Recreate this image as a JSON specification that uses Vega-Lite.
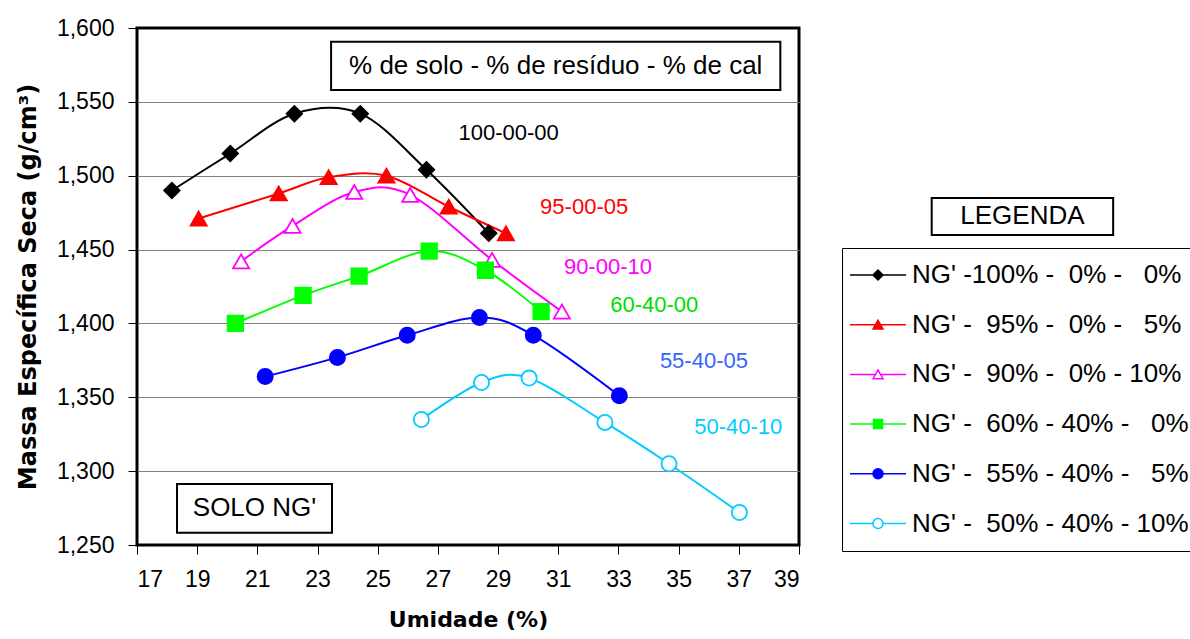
{
  "$schema": "https://vega.github.io/schema/vega-lite/v6.json",
  "width": 662,
  "height": 517,
  "autosize": "none",
  "padding": {"left": 137, "top": 28, "right": 391, "bottom": 94},
  "background": "white",
  "config": {
    "view": {"stroke": "#000000", "strokeWidth": 3},
    "axis": {
      "labelFont": "Liberation Sans", "labelFontSize": 23, "labelColor": "#000000",
      "tickColor": "#000000", "tickSize": 9, "tickWidth": 1, "domain": false,
      "titleFont": "DejaVu Sans", "titleFontWeight": "bold", "titleColor": "#000000",
      "labelPadding": 14
    },
    "legend": {
      "orient": "none", "legendX": 705, "legendY": 220, "padding": 14,
      "strokeColor": "#000000", "fillColor": "#ffffff",
      "labelFont": "Liberation Sans", "labelFontSize": 26, "labelColor": "#000000",
      "labelLimit": 500, "labelOffset": 21, "symbolOffset": 9, "symbolSize": 100,
      "symbolStrokeWidth": 1.5, "rowPadding": 23.7
    }
  },
  "datasets": {
    "pontos": [
      {"serie": "NG'\u00a0-100%\u00a0-\u00a0\u00a00%\u00a0-\u00a0\u00a0\u00a00%", "umidade": 18.16, "massa": 1.490},
      {"serie": "NG'\u00a0-100%\u00a0-\u00a0\u00a00%\u00a0-\u00a0\u00a0\u00a00%", "umidade": 20.10, "massa": 1.515},
      {"serie": "NG'\u00a0-100%\u00a0-\u00a0\u00a00%\u00a0-\u00a0\u00a0\u00a00%", "umidade": 22.23, "massa": 1.542},
      {"serie": "NG'\u00a0-100%\u00a0-\u00a0\u00a00%\u00a0-\u00a0\u00a0\u00a00%", "umidade": 24.42, "massa": 1.542},
      {"serie": "NG'\u00a0-100%\u00a0-\u00a0\u00a00%\u00a0-\u00a0\u00a0\u00a00%", "umidade": 26.62, "massa": 1.504},
      {"serie": "NG'\u00a0-100%\u00a0-\u00a0\u00a00%\u00a0-\u00a0\u00a0\u00a00%", "umidade": 28.69, "massa": 1.461},
      {"serie": "NG'\u00a0-\u00a0\u00a095%\u00a0-\u00a0\u00a00%\u00a0-\u00a0\u00a0\u00a05%", "umidade": 19.05, "massa": 1.471},
      {"serie": "NG'\u00a0-\u00a0\u00a095%\u00a0-\u00a0\u00a00%\u00a0-\u00a0\u00a0\u00a05%", "umidade": 21.71, "massa": 1.488},
      {"serie": "NG'\u00a0-\u00a0\u00a095%\u00a0-\u00a0\u00a00%\u00a0-\u00a0\u00a0\u00a05%", "umidade": 23.37, "massa": 1.499},
      {"serie": "NG'\u00a0-\u00a0\u00a095%\u00a0-\u00a0\u00a00%\u00a0-\u00a0\u00a0\u00a05%", "umidade": 25.29, "massa": 1.500},
      {"serie": "NG'\u00a0-\u00a0\u00a095%\u00a0-\u00a0\u00a00%\u00a0-\u00a0\u00a0\u00a05%", "umidade": 27.36, "massa": 1.479},
      {"serie": "NG'\u00a0-\u00a0\u00a095%\u00a0-\u00a0\u00a00%\u00a0-\u00a0\u00a0\u00a05%", "umidade": 29.26, "massa": 1.461},
      {"serie": "NG'\u00a0-\u00a0\u00a090%\u00a0-\u00a0\u00a00%\u00a0-\u00a010%", "umidade": 20.46, "massa": 1.442},
      {"serie": "NG'\u00a0-\u00a0\u00a090%\u00a0-\u00a0\u00a00%\u00a0-\u00a010%", "umidade": 22.17, "massa": 1.466},
      {"serie": "NG'\u00a0-\u00a0\u00a090%\u00a0-\u00a0\u00a00%\u00a0-\u00a010%", "umidade": 24.22, "massa": 1.489},
      {"serie": "NG'\u00a0-\u00a0\u00a090%\u00a0-\u00a0\u00a00%\u00a0-\u00a010%", "umidade": 26.08, "massa": 1.487},
      {"serie": "NG'\u00a0-\u00a0\u00a090%\u00a0-\u00a0\u00a00%\u00a0-\u00a010%", "umidade": 28.80, "massa": 1.443},
      {"serie": "NG'\u00a0-\u00a0\u00a090%\u00a0-\u00a0\u00a00%\u00a0-\u00a010%", "umidade": 31.12, "massa": 1.408},
      {"serie": "NG'\u00a0-\u00a0\u00a060%\u00a0-\u00a040%\u00a0-\u00a0\u00a0\u00a00%", "umidade": 20.27, "massa": 1.400},
      {"serie": "NG'\u00a0-\u00a0\u00a060%\u00a0-\u00a040%\u00a0-\u00a0\u00a0\u00a00%", "umidade": 22.52, "massa": 1.419},
      {"serie": "NG'\u00a0-\u00a0\u00a060%\u00a0-\u00a040%\u00a0-\u00a0\u00a0\u00a00%", "umidade": 24.38, "massa": 1.432},
      {"serie": "NG'\u00a0-\u00a0\u00a060%\u00a0-\u00a040%\u00a0-\u00a0\u00a0\u00a00%", "umidade": 26.71, "massa": 1.449},
      {"serie": "NG'\u00a0-\u00a0\u00a060%\u00a0-\u00a040%\u00a0-\u00a0\u00a0\u00a00%", "umidade": 28.58, "massa": 1.436},
      {"serie": "NG'\u00a0-\u00a0\u00a060%\u00a0-\u00a040%\u00a0-\u00a0\u00a0\u00a00%", "umidade": 30.43, "massa": 1.408},
      {"serie": "NG'\u00a0-\u00a0\u00a055%\u00a0-\u00a040%\u00a0-\u00a0\u00a0\u00a05%", "umidade": 21.26, "massa": 1.364},
      {"serie": "NG'\u00a0-\u00a0\u00a055%\u00a0-\u00a040%\u00a0-\u00a0\u00a0\u00a05%", "umidade": 23.66, "massa": 1.377},
      {"serie": "NG'\u00a0-\u00a0\u00a055%\u00a0-\u00a040%\u00a0-\u00a0\u00a0\u00a05%", "umidade": 25.98, "massa": 1.392},
      {"serie": "NG'\u00a0-\u00a0\u00a055%\u00a0-\u00a040%\u00a0-\u00a0\u00a0\u00a05%", "umidade": 28.38, "massa": 1.404},
      {"serie": "NG'\u00a0-\u00a0\u00a055%\u00a0-\u00a040%\u00a0-\u00a0\u00a0\u00a05%", "umidade": 30.17, "massa": 1.392},
      {"serie": "NG'\u00a0-\u00a0\u00a055%\u00a0-\u00a040%\u00a0-\u00a0\u00a0\u00a05%", "umidade": 33.03, "massa": 1.351},
      {"serie": "NG'\u00a0-\u00a0\u00a050%\u00a0-\u00a040%\u00a0-\u00a010%", "umidade": 26.45, "massa": 1.335},
      {"serie": "NG'\u00a0-\u00a0\u00a050%\u00a0-\u00a040%\u00a0-\u00a010%", "umidade": 28.45, "massa": 1.360},
      {"serie": "NG'\u00a0-\u00a0\u00a050%\u00a0-\u00a040%\u00a0-\u00a010%", "umidade": 30.03, "massa": 1.363},
      {"serie": "NG'\u00a0-\u00a0\u00a050%\u00a0-\u00a040%\u00a0-\u00a010%", "umidade": 32.55, "massa": 1.333},
      {"serie": "NG'\u00a0-\u00a0\u00a050%\u00a0-\u00a040%\u00a0-\u00a010%", "umidade": 34.68, "massa": 1.305},
      {"serie": "NG'\u00a0-\u00a0\u00a050%\u00a0-\u00a040%\u00a0-\u00a010%", "umidade": 37.02, "massa": 1.272}
    ],
    "rotulos": [
      {"rotulo": "100-00-00", "umidade": 29.35, "massa": 1.529},
      {"rotulo": "95-00-05", "umidade": 31.86, "massa": 1.479},
      {"rotulo": "90-00-10", "umidade": 32.65, "massa": 1.438},
      {"rotulo": "60-40-00", "umidade": 34.19, "massa": 1.4125},
      {"rotulo": "55-40-05", "umidade": 35.84, "massa": 1.3745},
      {"rotulo": "50-40-10", "umidade": 36.98, "massa": 1.3297}
    ],
    "caixas": [
      {"caixa": "% de solo - % de resíduo - % de cal", "umidade": 23.45, "umidade2": 38.38, "massa": 1.5907, "massa2": 1.558},
      {"caixa": "SOLO NG'", "umidade": 18.33, "umidade2": 23.48, "massa": 1.2913, "massa2": 1.2583},
      {"caixa": "LEGENDA", "umidade": 43.41, "umidade2": 49.44, "massa": 1.4849, "massa2": 1.4599}
    ],
    "textos": [
      {"texto": "% de solo - % de resíduo - % de cal", "umidade": 30.915, "massa": 1.5743},
      {"texto": "SOLO NG'", "umidade": 20.905, "massa": 1.2748},
      {"texto": "LEGENDA", "umidade": 46.425, "massa": 1.4724}
    ]
  },
  "encoding": {
    "x": {
      "field": "umidade", "type": "quantitative",
      "scale": {"domain": [17, 39], "nice": false, "zero": false},
      "axis": {"values": [17, 19, 21, 23, 25, 27, 29, 31, 33, 35, 37, 39], "grid": false,
               "title": "Umidade (%)", "titleFontSize": 22, "titlePadding": 18}
    },
    "y": {
      "field": "massa", "type": "quantitative",
      "scale": {"domain": [1.25, 1.6], "nice": false, "zero": false},
      "axis": {"values": [1.25, 1.3, 1.35, 1.4, 1.45, 1.5, 1.55, 1.6],
               "labelExpr": "replace(format(datum.value, '.3f'), '.', ',')",
               "grid": true, "gridWidth": 1,
               "gridColor": {"condition": {"test": "datum.value <= 1.2501 || datum.value >= 1.5999", "value": "#000000"}, "value": "#808080"},
               "title": "Massa Específica Seca (g/cm³)", "titleFontSize": 24, "titlePadding": 16}
    }
  },
  "layer": [
    {
      "data": {"name": "pontos"},
      "mark": {"type": "line", "interpolate": "cardinal", "strokeWidth": 2},
      "encoding": {
        "stroke": {
          "field": "serie", "type": "nominal",
          "scale": {
            "domain": [
              "NG'\u00a0-100%\u00a0-\u00a0\u00a00%\u00a0-\u00a0\u00a0\u00a00%",
              "NG'\u00a0-\u00a0\u00a095%\u00a0-\u00a0\u00a00%\u00a0-\u00a0\u00a0\u00a05%",
              "NG'\u00a0-\u00a0\u00a090%\u00a0-\u00a0\u00a00%\u00a0-\u00a010%",
              "NG'\u00a0-\u00a0\u00a060%\u00a0-\u00a040%\u00a0-\u00a0\u00a0\u00a00%",
              "NG'\u00a0-\u00a0\u00a055%\u00a0-\u00a040%\u00a0-\u00a0\u00a0\u00a05%",
              "NG'\u00a0-\u00a0\u00a050%\u00a0-\u00a040%\u00a0-\u00a010%"
            ],
            "range": ["#000000", "#ff0000", "#ff00ff", "#00ff00", "#0000ff", "#00ccff"]
          },
          "legend": {"title": null}
        }
      }
    },
    {
      "data": {"name": "pontos"},
      "transform": [{"filter": "false"}],
      "mark": {"type": "point", "opacity": 1, "strokeWidth": 1.5},
      "encoding": {
        "shape": {
          "field": "serie", "type": "nominal",
          "scale": {
            "domain": [
              "NG'\u00a0-100%\u00a0-\u00a0\u00a00%\u00a0-\u00a0\u00a0\u00a00%",
              "NG'\u00a0-\u00a0\u00a095%\u00a0-\u00a0\u00a00%\u00a0-\u00a0\u00a0\u00a05%",
              "NG'\u00a0-\u00a0\u00a090%\u00a0-\u00a0\u00a00%\u00a0-\u00a010%",
              "NG'\u00a0-\u00a0\u00a060%\u00a0-\u00a040%\u00a0-\u00a0\u00a0\u00a00%",
              "NG'\u00a0-\u00a0\u00a055%\u00a0-\u00a040%\u00a0-\u00a0\u00a0\u00a05%",
              "NG'\u00a0-\u00a0\u00a050%\u00a0-\u00a040%\u00a0-\u00a010%"
            ],
            "range": [
              "M-5.6,0H5.6M-1,0L0,-1L1,0L0,1Z",
              "M-5.6,0H5.6M-1,0.87L0,-0.87L1,0.87Z",
              "M-5.6,0H-0.55M0.55,0H5.6M-1,0.87L0,-0.87L1,0.87Z",
              "M-5.6,0H5.6M-0.9,-0.9H0.9V0.9H-0.9Z",
              "M-5.6,0H5.6M-1,0A1,1,0,1,0,1,0A1,1,0,1,0,-1,0Z",
              "M-5.6,0H-1M1,0H5.6M-1,0A1,1,0,1,0,1,0A1,1,0,1,0,-1,0Z"
            ]
          },
          "legend": {"title": null}
        },
        "stroke": {"field": "serie", "type": "nominal", "legend": {"title": null}},
        "fill": {
          "field": "serie", "type": "nominal",
          "scale": {
            "domain": [
              "NG'\u00a0-100%\u00a0-\u00a0\u00a00%\u00a0-\u00a0\u00a0\u00a00%",
              "NG'\u00a0-\u00a0\u00a095%\u00a0-\u00a0\u00a00%\u00a0-\u00a0\u00a0\u00a05%",
              "NG'\u00a0-\u00a0\u00a090%\u00a0-\u00a0\u00a00%\u00a0-\u00a010%",
              "NG'\u00a0-\u00a0\u00a060%\u00a0-\u00a040%\u00a0-\u00a0\u00a0\u00a00%",
              "NG'\u00a0-\u00a0\u00a055%\u00a0-\u00a040%\u00a0-\u00a0\u00a0\u00a05%",
              "NG'\u00a0-\u00a0\u00a050%\u00a0-\u00a040%\u00a0-\u00a010%"
            ],
            "range": ["#000000", "#ff0000", "#ffffff", "#00ff00", "#0000ff", "#ffffff"]
          },
          "legend": {"title": null}
        }
      }
    },
    {
      "data": {"name": "pontos"},
      "transform": [{"filter": "indexof(datum.serie, '100%') >= 0"}],
      "mark": {"type": "point", "shape": "diamond", "opacity": 1, "size": 240, "strokeWidth": 1.8},
      "encoding": {
        "stroke": {"field": "serie", "type": "nominal", "legend": {"title": null}},
        "fill": {"field": "serie", "type": "nominal", "legend": {"title": null}}
      }
    },
    {
      "data": {"name": "pontos"},
      "transform": [{"filter": "indexof(datum.serie, '95%') >= 0 || indexof(datum.serie, '90%') >= 0"}],
      "mark": {"type": "point", "shape": "triangle-up", "opacity": 1, "size": 260, "strokeWidth": 1.8},
      "encoding": {
        "stroke": {"field": "serie", "type": "nominal", "legend": {"title": null}},
        "fill": {"field": "serie", "type": "nominal", "legend": {"title": null}}
      }
    },
    {
      "data": {"name": "pontos"},
      "transform": [{"filter": "indexof(datum.serie, '60%') >= 0"}],
      "mark": {"type": "point", "shape": "square", "opacity": 1, "size": 240, "strokeWidth": 1.8},
      "encoding": {
        "stroke": {"field": "serie", "type": "nominal", "legend": {"title": null}},
        "fill": {"field": "serie", "type": "nominal", "legend": {"title": null}}
      }
    },
    {
      "data": {"name": "pontos"},
      "transform": [{"filter": "indexof(datum.serie, '55%') >= 0 || indexof(datum.serie, '50%') >= 0"}],
      "mark": {"type": "point", "shape": "circle", "opacity": 1, "size": 230, "strokeWidth": 1.8},
      "encoding": {
        "stroke": {"field": "serie", "type": "nominal", "legend": {"title": null}},
        "fill": {"field": "serie", "type": "nominal", "legend": {"title": null}}
      }
    },
    {
      "data": {"name": "rotulos"},
      "mark": {"type": "text", "font": "Liberation Sans", "fontSize": 22, "align": "center", "baseline": "middle"},
      "encoding": {
        "text": {"field": "rotulo", "type": "nominal"},
        "color": {
          "field": "rotulo", "type": "nominal", "legend": null,
          "scale": {
            "domain": ["100-00-00", "95-00-05", "90-00-10", "60-40-00", "55-40-05", "50-40-10"],
            "range": ["#000000", "#ff0000", "#ff00ff", "#00dd00", "#3366ff", "#00ccff"]
          }
        }
      }
    },
    {
      "data": {"name": "caixas"},
      "mark": {"type": "rect", "fill": "#ffffff", "stroke": "#000000", "strokeWidth": 2},
      "encoding": {
        "x2": {"field": "umidade2"},
        "y2": {"field": "massa2"}
      }
    },
    {
      "data": {"name": "textos"},
      "mark": {"type": "text", "font": "Liberation Sans", "fontSize": 26, "color": "#000000", "align": "center", "baseline": "middle"},
      "encoding": {
        "text": {"field": "texto", "type": "nominal"}
      }
    }
  ]
}
